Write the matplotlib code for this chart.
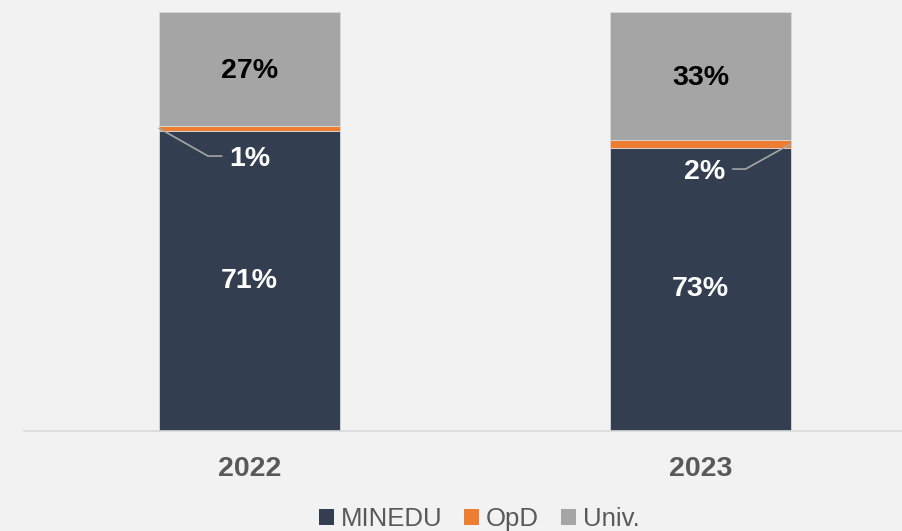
import matplotlib

matplotlib.use("Agg")
import matplotlib.pyplot as plt
import numpy as np
from matplotlib.patches import Patch

years = ["2022", "2023"]
series = ["MINEDU", "OpD", "Univ."]
minedu = [71, 73]
opd = [1, 2]
univ = [27, 33]
colors = ["#333F50", "#ED7D31", "#A5A5A5"]

plt.rcParams["font.family"] = ["Liberation Sans", "DejaVu Sans"]

bg = "#F2F2F2"
fig = plt.figure(figsize=(9.02, 5.31), dpi=100, facecolor=bg)
ax = fig.add_axes([24 / 902, 1 - 431 / 531, 1 - 24 / 902, (431 - 12) / 531])
ax.set_facecolor(bg)

# bars are drawn as shares of the column total (labels keep the raw values)
vals = np.array([minedu, opd, univ], dtype=float)
shares = vals / vals.sum(axis=0)
x = np.arange(len(years))
width = 0.4
fs = 20.5

bottom = np.zeros(len(years))
for i, name in enumerate(series):
    ax.bar(x, shares[i], width, bottom=bottom, color=colors[i],
           edgecolor="#D9D9D9", linewidth=0.6, label=name)
    bottom += shares[i]

for j in range(len(years)):
    b0 = shares[0, j]
    b1 = b0 + shares[1, j]
    ax.text(x[j], b0 / 2, f"{minedu[j]}%", ha="center", va="center",
            color="white", fontsize=fs, fontweight="bold")
    ax.text(x[j], b1 + shares[2, j] / 2 - 0.004, f"{univ[j]}%", ha="center", va="center",
            color="black", fontsize=fs, fontweight="bold")

# OpD labels with leader lines
lc = "#A6A6A6"
opd_mid = shares[0] + shares[1] / 2
ax.text(x[0], opd_mid[0] - 0.072, f"{opd[0]}%", ha="center", va="center",
        color="white", fontsize=fs, fontweight="bold")
ax.plot([x[0] - width / 2, x[0] - 0.092, x[0] - 0.062],
        [opd_mid[0], opd_mid[0] - 0.066, opd_mid[0] - 0.066], color=lc, lw=1.2)
ax.text(x[1] + 0.01, opd_mid[1] - 0.066, f"{opd[1]}%", ha="center", va="center",
        color="white", fontsize=fs, fontweight="bold")
ax.plot([x[1] + 0.072, x[1] + 0.1, x[1] + width / 2],
        [opd_mid[1] - 0.06, opd_mid[1] - 0.06, opd_mid[1]], color=lc, lw=1.2)

ax.set_xlim(-0.5, (902 - 249.5) / 451)
ax.set_ylim(0, 1)
ax.set_xticks(x)
ax.set_xticklabels(years, fontsize=fs, fontweight="bold", color="#595959")
ax.tick_params(axis="x", length=0, pad=18)
ax.set_yticks([])
for s in ["top", "right", "left"]:
    ax.spines[s].set_visible(False)
ax.spines["bottom"].set_color("#D9D9D9")
ax.spines["bottom"].set_linewidth(1.2)

handles = [Patch(facecolor=c, edgecolor="none") for c in colors]
fig.legend(handles, series, loc="center", bbox_to_anchor=(479 / 902, 1 - 519 / 531),
           ncol=3, frameon=False, fontsize=18.5, labelcolor="#595959",
           handlelength=0.6, handleheight=0.6, handletextpad=0.25,
           columnspacing=0.85, borderpad=0)

fig.savefig("out.png", dpi=100, facecolor=bg)
